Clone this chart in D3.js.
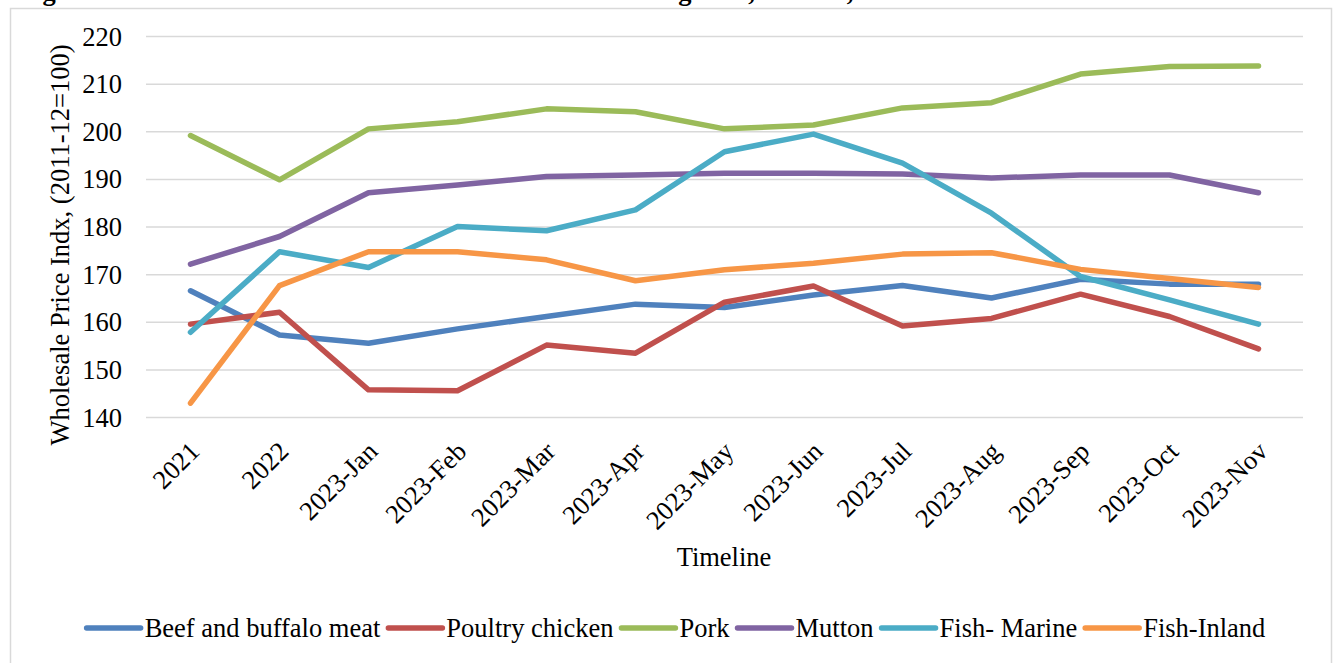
<!DOCTYPE html>
<html><head><meta charset="utf-8">
<script src="https://cdn.jsdelivr.net/npm/d3@7"></script>
<style>body{margin:0;background:#fff;}svg{display:block;}</style>
</head><body>
<svg id="c" width="1335" height="663"></svg>
<script>
const categories = ["2021","2022","2023-Jan","2023-Feb","2023-Mar","2023-Apr","2023-May","2023-Jun","2023-Jul","2023-Aug","2023-Sep","2023-Oct","2023-Nov"];
const seriesNames = ["Beef and buffalo meat","Poultry chicken","Pork","Mutton","Fish- Marine","Fish-Inland"];
const beef    = [166.5,157.2,155.5,158.5,161.1,163.7,163.0,165.6,167.6,165.0,168.9,167.9,167.9];
const poultry = [159.5,162.0,145.7,145.5,155.1,153.4,164.1,167.5,159.1,160.7,165.8,161.1,154.3];
const pork    = [199.1,189.8,200.5,202.0,204.7,204.1,200.5,201.3,204.9,206.0,212.0,213.6,213.7];
const mutton  = [172.1,177.9,187.1,188.7,190.5,190.8,191.2,191.2,191.0,190.2,190.8,190.8,187.1];
const marine  = [157.8,174.7,171.4,180.0,179.1,183.5,195.7,199.4,193.3,182.8,169.5,164.6,159.5];
const inland  = [142.9,167.6,174.7,174.7,173.0,168.6,170.9,172.3,174.2,174.5,171.0,169.1,167.2];
const yTicks  = [140,150,160,170,180,190,200,210,220];
const colors  = ["#4F81BD","#C0504D","#9BBB59","#8064A2","#4BACC6","#F79646"];
const seriesValues = [beef,poultry,pork,mutton,marine,inland];

const svg = d3.select("#c");
const font = "'Liberation Serif','Times New Roman',serif";
const fs = 26.5;
const L = 146, R = 1303, T = 36, B = 417;

// frame
svg.append("rect").attr("x",10.5).attr("y",8.5).attr("width",1321).attr("height",700)
  .attr("fill","none").attr("stroke","#d9d9d9").attr("stroke-width",1.5);

// title (clipped at the top edge, as in the source)
svg.append("text").attr("x",19).attr("y",0).attr("font-family",font).attr("font-weight","bold")
  .attr("font-size",fs).attr("fill","#000")
  .text("Figure 4: Trend in Wholesale Price Index of Meat including Beef, Mutton, Chicken and Fish");

const x = d3.scalePoint().domain(categories).range([L, R]).padding(0.5);
const y = d3.scaleLinear().domain([140,220]).range([B, T]);

// grid + y labels
const yAxis = d3.axisLeft(y).tickValues(yTicks).tickSize(-(R-L)).tickPadding(24).tickFormat(d3.format("d"));
const gy = svg.append("g").attr("transform",`translate(${L},0)`).call(yAxis);
gy.select(".domain").remove();
gy.selectAll(".tick line").attr("stroke","#d9d9d9").attr("stroke-width",1.5);
gy.selectAll(".tick text").attr("font-family",font).attr("font-size",fs).attr("fill","#000").attr("dy","0.34em");

// x axis labels
const xAxis = d3.axisBottom(x).tickSize(0).tickPadding(0);
const gx = svg.append("g").attr("transform",`translate(0,${B})`).call(xAxis);
gx.select(".domain").remove();
gx.selectAll(".tick text").attr("font-family",font).attr("font-size",fs).attr("fill","#000")
  .attr("text-anchor","end").attr("dy",0).attr("y",0)
  .attr("transform","translate(10,36) rotate(-45)");

// lines
const line = d3.line().x((d,i)=>x(categories[i])).y(d=>y(d));
seriesValues.forEach((vals,k)=>{
  svg.append("path").datum(vals).attr("d",line).attr("fill","none")
    .attr("stroke",colors[k]).attr("stroke-width",5.5).attr("stroke-linecap","round").attr("stroke-linejoin","round");
});

// axis titles
svg.append("text").attr("transform","translate(69,245) rotate(-90)").attr("text-anchor","middle")
  .attr("font-family",font).attr("font-size",fs).attr("fill","#000").text("Wholesale Price Indx, (2011-12=100)");
svg.append("text").attr("x",724).attr("y",566).attr("text-anchor","middle")
  .attr("font-family",font).attr("font-size",fs).attr("fill","#000").text("Timeline");

// legend
const lg = svg.append("g");
let cx = 0;
const sw = 54, ly = 628;
seriesNames.forEach((n,k)=>{
  lg.append("line").attr("x1",cx).attr("x2",cx+sw).attr("y1",ly).attr("y2",ly)
    .attr("stroke",colors[k]).attr("stroke-width",5.5).attr("stroke-linecap","round");
  const t = lg.append("text").attr("x",cx+sw+4).attr("y",ly+9).attr("font-family",font)
    .attr("font-size",fs).attr("fill","#000").text(n);
  cx += sw + 4 + t.node().getComputedTextLength() + 8;
});
const lw = cx - 8;
lg.attr("transform",`translate(${676 - lw/2},0)`);
</script>
</body></html>
